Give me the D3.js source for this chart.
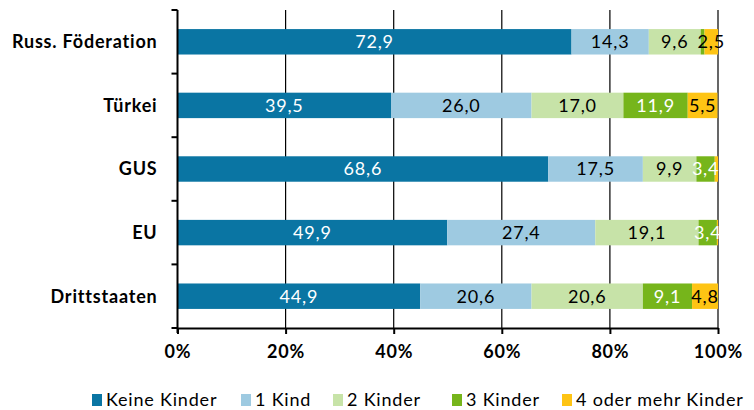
<!DOCTYPE html>
<html>
<head>
<meta charset="utf-8">
<script src="https://cdn.jsdelivr.net/npm/d3@7"></script>
<style>
  body { margin: 0; background: #fff; }
  svg text { font-family: Lato, "Open Sans", sans-serif; letter-spacing: 0.8px; }
</style>
</head>
<body>
<div id="chart"></div>
<script>
// categories (top to bottom)
const regions = ["Russ. Föderation", "Türkei", "GUS", "EU", "Drittstaaten"];
// series, in percent
const keineKinder = [72.9, 39.5, 68.6, 49.9, 44.9];
const einKind     = [14.3, 26.0, 17.5, 27.4, 20.6];
const zweiKinder  = [9.6, 17.0, 9.9, 19.1, 20.6];
const dreiKinder  = [0.7, 11.9, 3.4, 3.4, 9.1];
const vierPlus    = [2.5, 5.5, 0.6, 0.2, 4.8];
const seriesNames = ["Keine Kinder", "1 Kind", "2 Kinder", "3 Kinder", "4 oder mehr Kinder"];
const ticks = [0, 20, 40, 60, 80, 100];

const colors = ["#0a75a3", "#9ecae1", "#c7e3a8", "#76b51b", "#fec414"];
const labelColors = ["#fff", "#000", "#000", "#fff", "#000"];

const width = 754, height = 410;
const margin = { top: 10, right: 36, bottom: 82, left: 177.5 };

const svg = d3.select("#chart").append("svg")
  .attr("width", width)
  .attr("height", height);

const x = d3.scaleLinear().domain([0, 100]).range([margin.left, width - margin.right]);
const y = d3.scaleBand().domain(regions)
  .range([margin.top, height - margin.bottom])
  .paddingInner(0.6).paddingOuter(0.3);

// build rows for stacking
const rows = regions.map((r, i) => ({
  region: r,
  s0: keineKinder[i], s1: einKind[i], s2: zweiKinder[i], s3: dreiKinder[i], s4: vierPlus[i]
}));
const keys = ["s0", "s1", "s2", "s3", "s4"];
const stacked = d3.stack().keys(keys)(rows);

// gridlines
svg.append("g")
  .selectAll("line")
  .data(ticks.slice(1))
  .join("line")
  .attr("x1", d => x(d)).attr("x2", d => x(d))
  .attr("y1", margin.top).attr("y2", height - margin.bottom)
  .attr("stroke", "#000").attr("stroke-width", 1.2);

// bars
const layer = svg.append("g")
  .selectAll("g")
  .data(stacked)
  .join("g")
  .attr("fill", (d, i) => colors[i]);

layer.selectAll("rect")
  .data(d => d)
  .join("rect")
  .attr("x", d => x(d[0]))
  .attr("width", d => x(d[1]) - x(d[0]))
  .attr("y", d => y(d.data.region))
  .attr("height", y.bandwidth());

// value labels
svg.append("g")
  .selectAll("g")
  .data(stacked)
  .join("g")
  .attr("fill", (d, i) => labelColors[i])
  .selectAll("text")
  .data(d => d.filter(v => v[1] - v[0] >= 1))
  .join("text")
  .attr("x", d => (x(d[0]) + x(d[1])) / 2)
  .attr("y", d => y(d.data.region) + y.bandwidth() / 2)
  .attr("dy", "0.36em")
  .attr("text-anchor", "middle")
  .style("font-size", "18px")
  .text(d => d3.format(".1f")(d[1] - d[0]).replace(".", ","));

// left axis
const bandEdges = regions.map(r => y(r) - y.step() * y.paddingInner() / 2);
bandEdges.push(height - margin.bottom);
bandEdges[0] = margin.top;
svg.append("line")
  .attr("x1", x(0)).attr("x2", x(0))
  .attr("y1", margin.top).attr("y2", height - margin.bottom + 5)
  .attr("stroke", "#000").attr("stroke-width", 2);
svg.append("g")
  .selectAll("line")
  .data(bandEdges)
  .join("line")
  .attr("x1", x(0) - 6).attr("x2", x(0))
  .attr("y1", d => d).attr("y2", d => d)
  .attr("stroke", "#000").attr("stroke-width", 2);

svg.append("g")
  .selectAll("text")
  .data(regions)
  .join("text")
  .attr("x", x(0) - 20)
  .attr("y", d => y(d) + y.bandwidth() / 2)
  .attr("dy", "0.36em")
  .attr("text-anchor", "end")
  .style("font-size", "18px")
  .style("font-weight", "bold")
  .text(d => d);

// bottom axis
const xAxis = svg.append("g")
  .attr("transform", `translate(0,${height - margin.bottom})`)
  .call(d3.axisBottom(x).tickValues(ticks).tickFormat(d => d + "%").tickSize(6).tickSizeOuter(0).tickPadding(11));
xAxis.select(".domain").attr("stroke", "#000").attr("stroke-width", 2);
xAxis.selectAll(".tick line").attr("stroke", "#000").attr("stroke-width", 2);
xAxis.selectAll(".tick text")
  .attr("fill", "#000")
  .style("font-family", "Lato, sans-serif")
  .style("font-size", "18px")
  .style("font-weight", "bold");

// legend
const legendX = [92, 241, 333, 452, 562];
const legend = svg.append("g")
  .selectAll("g")
  .data(seriesNames)
  .join("g")
  .attr("transform", (d, i) => `translate(${legendX[i]},400)`);
legend.append("rect")
  .attr("x", 0).attr("y", -6)
  .attr("width", 10).attr("height", 12)
  .attr("fill", (d, i) => colors[i]);
legend.append("text")
  .attr("x", 14).attr("y", 0)
  .attr("dy", "0.36em")
  .style("font-size", "18px")
  .text(d => d);
</script>
</body>
</html>
